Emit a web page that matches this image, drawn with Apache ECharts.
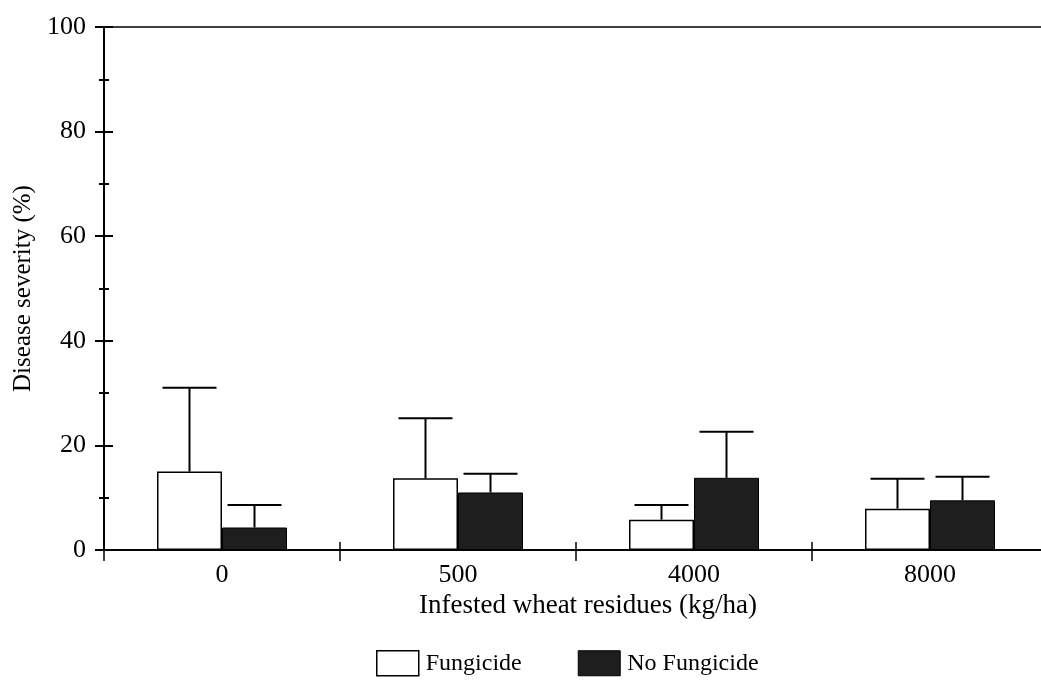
<!DOCTYPE html>
<html>
<head>
<meta charset="utf-8">
<script src="https://cdn.jsdelivr.net/npm/echarts@6/dist/echarts.min.js"></script>
<style>
  html, body { margin: 0; padding: 0; background: #fff; }
  #chart { width: 1041px; height: 684px; }
</style>
</head>
<body>
<div id="chart"></div>
<script>
// Residue levels (kg/ha)
var categories = ['0', '500', '4000', '8000'];
// Mean disease severity (%) and upper error limits
var fungicide = [15, 13.7, 5.8, 7.9];
var fungicideErr = [31, 25.2, 8.6, 13.6];
var noFungicide = [4.3, 11, 13.8, 9.5];
var noFungicideErr = [8.6, 14.6, 22.6, 14.0];
var yTicks = [0, 20, 40, 60, 80, 100];

var FONT = '"Liberation Serif", "Times New Roman", serif';
var GRID_W = 944;
var GRID_H = 523;
var BAR_W = 65;
var CAP_W = 54;

function errorSeries(name, values, side) {
  return {
    type: 'custom',
    name: name + ' error',
    xAxisIndex: 0,
    yAxisIndex: 0,
    z: 1,
    silent: true,
    data: values.map(function (v, i) { return [i, v, side === -1 ? fungicide[i] : noFungicide[i]]; }),
    renderItem: function (params, api) {
      var top = api.coord([api.value(0), api.value(1)]);
      var base = api.coord([api.value(0), api.value(2)]);
      var x = top[0] + side * BAR_W / 2;
      var style = { stroke: '#000', lineWidth: 2 };
      return {
        type: 'group',
        children: [
          { type: 'line', shape: { x1: x, y1: base[1], x2: x, y2: top[1] }, style: style },
          { type: 'line', shape: { x1: x - CAP_W / 2, y1: top[1], x2: x + CAP_W / 2, y2: top[1] }, style: style }
        ]
      };
    }
  };
}

var chart = echarts.init(document.getElementById('chart'));
chart.setOption({
  animation: false,
  backgroundColor: '#fff',
  textStyle: { fontFamily: FONT, color: '#000' },
  grid: {
    left: 104, top: 27, width: GRID_W, height: GRID_H,
    outerBoundsMode: 'none', containLabel: false,
    show: true, borderColor: '#000', borderWidth: 1.5, backgroundColor: 'transparent'
  },
  legend: {
    left: 376, top: 650, padding: 0,
    icon: 'rect',
    itemWidth: 42, itemHeight: 25, itemGap: 56,
    textStyle: { fontFamily: FONT, fontSize: 24, color: '#000', padding: [0, 0, 0, 2] },
    data: [
      { name: 'Fungicide', itemStyle: { color: '#fff', borderColor: '#000', borderWidth: 1.5 } },
      { name: 'No Fungicide', itemStyle: { color: '#1e1e1e', borderColor: '#000', borderWidth: 1 } }
    ]
  },
  xAxis: [
    {
      type: 'category', position: 'bottom', data: categories,
      name: 'Infested wheat residues (kg/ha)', nameLocation: 'middle', nameGap: 40,
      nameTextStyle: { fontFamily: FONT, fontSize: 27, color: '#000', padding: [0, 0, 0, 24] },
      axisLine: { lineStyle: { color: '#000', width: 1.5 } },
      axisTick: { show: true, length: 11, lineStyle: { color: '#000', width: 1.5 } },
      axisLabel: { fontFamily: FONT, fontSize: 26, color: '#000', margin: 12 },
      splitLine: { show: false }
    },
    {
      // upper half of the crossing ticks on the baseline
      type: 'category', position: 'top', offset: -GRID_H, data: categories,
      axisLine: { show: true, lineStyle: { color: '#000', width: 1.5 } },
      axisTick: { show: true, length: 8, lineStyle: { color: '#000', width: 1.5 } },
      axisLabel: { show: false },
      splitLine: { show: false }
    }
  ],
  yAxis: [
    {
      type: 'value', position: 'left', min: 0, max: 100, interval: 20,
      name: 'Disease severity (%)', nameLocation: 'middle', nameGap: 68,
      nameTextStyle: { fontFamily: FONT, fontSize: 25, color: '#000' },
      axisLine: { show: true, lineStyle: { color: '#000', width: 2 } },
      axisTick: { show: true, length: 9, lineStyle: { color: '#000', width: 2 } },
      minorTick: { show: true, splitNumber: 2, length: 5, lineStyle: { color: '#000', width: 2 } },
      axisLabel: {
        fontFamily: FONT, fontSize: 26, color: '#000', margin: 18,
        formatter: function (v) { return yTicks.indexOf(v) >= 0 ? String(v) : ''; }
      },
      splitLine: { show: false }
    },
    {
      // right half of the crossing ticks on the left axis
      type: 'value', position: 'right', offset: -GRID_W, min: 0, max: 100, interval: 20,
      axisLine: { show: true, lineStyle: { color: '#000', width: 2 } },
      axisTick: { show: true, length: 9, lineStyle: { color: '#000', width: 2 } },
      minorTick: { show: true, splitNumber: 2, length: 5, lineStyle: { color: '#000', width: 2 } },
      axisLabel: { show: false },
      splitLine: { show: false }
    }
  ],
  series: [
    errorSeries('Fungicide', fungicideErr, -1),
    errorSeries('No Fungicide', noFungicideErr, 1),
    {
      name: 'Fungicide', type: 'bar', data: fungicide, z: 2,
      barWidth: BAR_W, barGap: '0%',
      itemStyle: { color: '#fff', borderColor: '#000', borderWidth: 1.5 }
    },
    {
      name: 'No Fungicide', type: 'bar', data: noFungicide, z: 2,
      barWidth: BAR_W, barGap: '0%',
      itemStyle: { color: '#1e1e1e', borderColor: '#000', borderWidth: 1 }
    }
  ]
});
</script>
</body>
</html>
